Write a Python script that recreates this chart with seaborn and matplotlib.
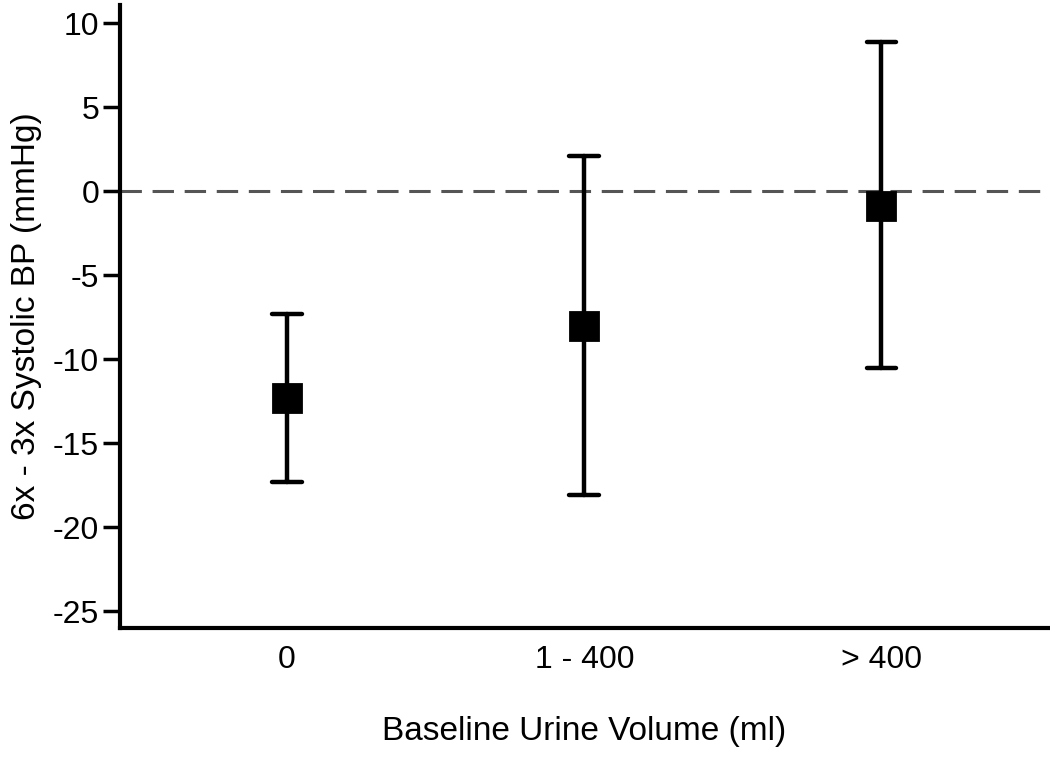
import numpy as np
import pandas as pd
import seaborn as sns
import matplotlib.pyplot as plt

# data
groups = ['0', '1 - 400', '> 400']
means = [-12.3, -8.0, -0.85]
ci_low = [-17.3, -18.1, -10.5]
ci_high = [-7.3, 2.1, 8.9]

sns.set_style('ticks')
plt.rcParams['font.family'] = ['Liberation Sans', 'DejaVu Sans']
plt.rcParams['axes.unicode_minus'] = False

# long form: median of (low, mean, high) is the mean, 100% interval is the CI
rows = []
for g, lo, m, hi in zip(groups, ci_low, means, ci_high):
    for v in (lo, m, hi):
        rows.append({'group': g, 'value': v})
df = pd.DataFrame(rows)

fig = plt.figure(figsize=(10.5, 7.62), dpi=100)
ax = fig.add_axes([0.1143, 0.1759, 0.8837, 0.8175])

ax.axhline(0, color='#555555', linewidth=2.2, linestyle=(0, (7, 3.5)), zorder=1)

sns.pointplot(data=df, x='group', y='value', order=groups,
              estimator='median', errorbar=('pi', 100),
              linestyle='none', marker='s', markersize=20,
              color='black', capsize=0.1,
              err_kws={'linewidth': 3.2}, ax=ax)

ax.set_xlim(-0.562, 2.56)
ax.set_ylim(-26, 11.1)
ax.set_yticks(np.arange(-25, 11, 5))

ax.set_xlabel('Baseline Urine Volume (ml)', fontsize=24, labelpad=30, color='black')
ax.set_ylabel('6x - 3x Systolic BP (mmHg)', fontsize=24, labelpad=8, color='black')
ax.tick_params(axis='y', labelsize=23, length=12, width=2.5, pad=3,
               color='black', labelcolor='black')
ax.tick_params(axis='x', labelsize=23, length=0, pad=12, labelcolor='black')

sns.despine(ax=ax)
for s in ('left', 'bottom'):
    ax.spines[s].set_linewidth(3)
    ax.spines[s].set_color('black')

fig.savefig('out.png', dpi=100)
